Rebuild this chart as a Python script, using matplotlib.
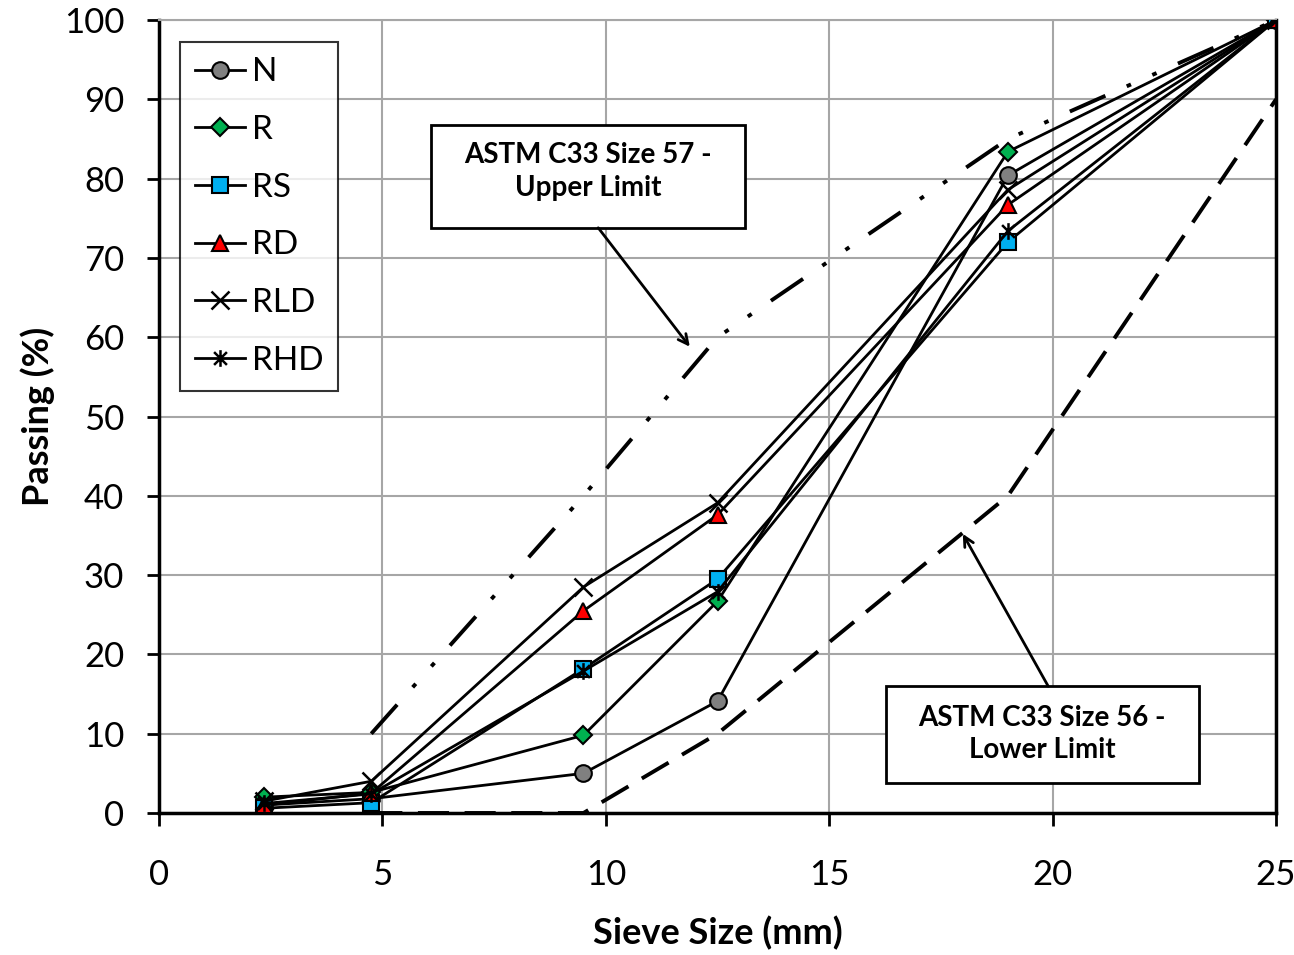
import numpy as np
import matplotlib.pyplot as plt
from matplotlib.path import Path
from matplotlib.patches import Rectangle

plt.rcParams['font.family'] = ['Lato', 'DejaVu Sans']

# sieve sizes (mm) and percent passing
sieve = [2.36, 4.75, 9.5, 12.5, 19, 25]
N = [1.0, 1.8, 5.0, 14.1, 80.4, 100]
R = [2.0, 2.6, 9.8, 26.7, 83.4, 100]
RS = [0.6, 1.3, 18.2, 29.5, 72.0, 100]
RD = [1.0, 2.5, 25.5, 37.6, 76.7, 100]
RLD = [1.5, 4.0, 28.5, 39.1, 78.6, 100]
RHD = [1.2, 2.4, 17.9, 27.9, 73.4, 100]

# ASTM C33 limits
upper_x = [4.75, 9.5, 12.5, 19, 25]
upper_y = [10, 40, 60, 85, 100]
lower_x = [4.75, 9.5, 12.5, 19, 25]
lower_y = [0, 0, 10, 40, 90]

labels = ['N', 'R', 'RS', 'RD', 'RLD', 'RHD']
series = [N, R, RS, RD, RLD, RHD]

# asterisk marker like excel (x with a vertical bar)
star = Path([(-1, -1), (1, 1), (-1, 1), (1, -1), (0, -1.3), (0, 1.3)],
            [Path.MOVETO, Path.LINETO, Path.MOVETO, Path.LINETO, Path.MOVETO, Path.LINETO])

styles = [
    dict(marker='o', mfc='#808080', mec='black', ms=12),
    dict(marker='D', mfc='#00B050', mec='black', ms=9),
    dict(marker='s', mfc='#00B0F0', mec='black', ms=11),
    dict(marker='^', mfc='#FF0000', mec='black', ms=12),
    dict(marker='x', mfc='none', mec='black', ms=13, mew=1.8),
    dict(marker=star, mfc='none', mec='black', ms=12, mew=1.8),
]

fig = plt.figure(figsize=(12.94, 9.55), dpi=100)
ax = fig.add_axes([0.1229, 0.1487, 0.8632, 0.8303])

ax.plot(upper_x, upper_y, color='black', lw=2.8, dashes=(10, 6, 1.2, 6, 1.2, 6), zorder=2)
ax.plot(lower_x, lower_y, color='black', lw=2.8, dashes=(8, 4), zorder=2)

for lab, ys, st in zip(labels, series, styles):
    kw = dict(mew=1.5)
    kw.update(st)
    ax.plot(sieve, ys, color='black', lw=2, label=lab, zorder=3, **kw)

ax.set_xlim(0, 25)
ax.set_ylim(0, 100)
ax.set_xticks(np.arange(0, 26, 5))
ax.set_yticks(np.arange(0, 101, 10))
ax.grid(True, color='#a6a6a6', lw=1.5)
ax.set_axisbelow(True)

for s in ['left', 'bottom']:
    ax.spines[s].set_linewidth(2.5)
ax.spines['right'].set_linewidth(2.5)
ax.spines['top'].set_color('#a6a6a6')
ax.spines['top'].set_linewidth(1.5)
ax.tick_params(axis='both', direction='out', length=9, width=2, labelsize=25, colors='black')
ax.tick_params(axis='x', pad=24)
ax.tick_params(axis='y', pad=16)
ax.tick_params(top=False, right=False)

ax.set_xlabel('Sieve Size (mm)', fontsize=26, fontweight='bold', labelpad=18)
ax.set_ylabel('Passing (%)', fontsize=26, fontweight='bold', labelpad=6)

leg = ax.legend(loc='upper left', bbox_to_anchor=(0.0188, 0.972), borderaxespad=0,
                fontsize=24, frameon=True, fancybox=False, edgecolor='black',
                handlelength=1.5, handletextpad=0.2, labelspacing=0.83,
                borderpad=0.45)
leg.get_frame().set_linewidth(1.5)

# annotation boxes
ax.add_patch(Rectangle((6.09, 73.8), 7.03, 13.0, fc='white', ec='black', lw=2, zorder=5))
ax.text(9.6, 80.9, 'ASTM C33 Size 57 -\nUpper Limit', ha='center', va='center',
        fontsize=20, fontweight='bold', linespacing=1.3, zorder=6)
ax.annotate('', xy=(11.88, 58.8), xytext=(9.83, 73.8),
            arrowprops=dict(arrowstyle='->,head_length=0.7,head_width=0.35', lw=2,
                            color='black', shrinkA=0, shrinkB=0), zorder=6)

ax.add_patch(Rectangle((16.27, 3.8), 7.01, 12.2, fc='white', ec='black', lw=2, zorder=5))
ax.text(19.76, 10.0, 'ASTM C33 Size 56 -\nLower Limit', ha='center', va='center',
        fontsize=20, fontweight='bold', linespacing=1.3, zorder=6)
ax.annotate('', xy=(17.99, 35.2), xytext=(19.9, 16.0),
            arrowprops=dict(arrowstyle='->,head_length=0.7,head_width=0.35', lw=2,
                            color='black', shrinkA=0, shrinkB=0), zorder=6)

fig.savefig('out.png', dpi=100)
